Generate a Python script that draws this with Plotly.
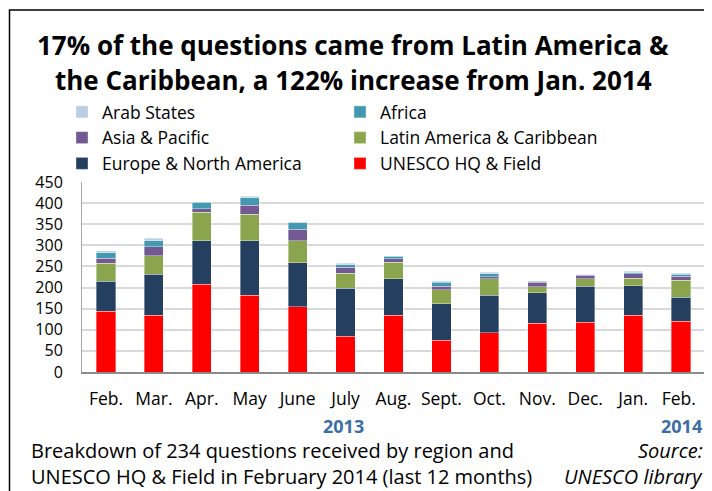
import plotly.graph_objects as go

months = ["Feb.", "Mar.", "Apr.", "May", "June", "July", "Aug.", "Sept.", "Oct.", "Nov.", "Dec.", "Jan.", "Feb. "]
unesco_hq = [144, 135, 208, 182, 154, 85, 135, 75, 93, 116, 118, 135, 120]
europe_na = [71, 97, 103, 129, 105, 113, 86, 87, 89, 72, 85, 69, 57]
latin_am = [42, 43, 67, 63, 52, 36, 39, 33, 39, 14, 18, 18, 40]
asia_pac = [12, 22, 9, 21, 27, 14, 8, 8, 5, 11, 8, 11, 10]
africa = [14, 14, 15, 18, 15, 6, 6, 10, 7, 2, 1, 2, 5]
arab_states = [4, 6, 1, 3, 3, 4, 1, 2, 3, 1, 1, 4, 2]
y_ticks = [0, 50, 100, 150, 200, 250, 300, 350, 400, 450]

OFF = 8  # page body margin offset
W, H = 712 - OFF, 491 - OFF
L, R, T, B = 82 - OFF, 705 - OFF, 182 - OFF, 372 - OFF
FONT = "Open Sans"

def px(x):
    return (x - OFF - L) / (R - L)

def py(y):
    return (B - (y - OFF)) / (B - T)

series = [
    ("UNESCO HQ & Field", unesco_hq, "#FF0000"),
    ("Europe & North America", europe_na, "#243F60"),
    ("Latin America & Caribbean", latin_am, "#8BA54E"),
    ("Asia & Pacific", asia_pac, "#735A94"),
    ("Africa", africa, "#4299B0"),
    ("Arab States", arab_states, "#B9CDE5"),
]

fig = go.Figure()
for name, vals, col in series:
    fig.add_trace(go.Bar(
        x=months, y=vals, name=name,
        marker=dict(color=col, line=dict(color="rgba(255,255,255,0.6)", width=0.6)),
        width=0.4,
    ))

fig.update_layout(
    width=W, height=H,
    barmode="stack",
    plot_bgcolor="white", paper_bgcolor="white",
    margin=dict(l=L, r=W - R, t=T, b=H - B),
    font=dict(family=FONT, size=18, color="#000000"),
    showlegend=True,
    legend=dict(
        orientation="h", traceorder="reversed",
        x=px(62), y=py(94), xanchor="left", yanchor="top",
        entrywidth=233, entrywidthmode="pixels",
        font=dict(family=FONT, size=17.5, color="#000000"),
        bgcolor="rgba(0,0,0,0)", itemclick=False,
    ),
    xaxis=dict(
        showline=True, linecolor="#8C8C8C", linewidth=2,
        ticks="", tickfont=dict(family=FONT, size=17.5),
        ticklabelstandoff=10, showgrid=False, fixedrange=True,
    ),
    yaxis=dict(
        range=[0, 450], tickvals=y_ticks, ticktext=[str(v) for v in y_ticks],
        showline=True, linecolor="#A6A6A6", linewidth=1,
        gridcolor="#D9D9D9", gridwidth=1.5, zeroline=False,
        ticks="", tickfont=dict(family=FONT, size=16),
        ticklabelstandoff=15, fixedrange=True,
    ),
)

ann = []
ann.append(dict(text="<b>17% of the questions came from Latin America &</b>", x=px(353), y=py(45),
                font=dict(size=26, family=FONT), xanchor="center", yanchor="middle"))
ann.append(dict(text="<b>the Caribbean, a 122% increase from Jan. 2014</b>", x=px(353), y=py(80),
                font=dict(size=26, family=FONT), xanchor="center", yanchor="middle"))
ann.append(dict(text="<b>2013</b>", x=px(343), y=py(426), font=dict(size=18, family=FONT, color="#3B6EA5"),
                xanchor="center", yanchor="middle"))
ann.append(dict(text="<b>2014</b>", x=px(681), y=py(426), font=dict(size=18, family=FONT, color="#3B6EA5"),
                xanchor="center", yanchor="middle"))
ann.append(dict(text="Breakdown of 234 questions received by region and", x=px(29), y=py(450),
                font=dict(size=20, family=FONT), xanchor="left", yanchor="middle"))
ann.append(dict(text="UNESCO HQ & Field in February 2014 (last 12 months)", x=px(29), y=py(476),
                font=dict(size=20, family=FONT), xanchor="left", yanchor="middle"))
ann.append(dict(text="<i>Source:</i>", x=px(705), y=py(450),
                font=dict(size=20, family=FONT), xanchor="right", yanchor="middle"))
ann.append(dict(text="<i>UNESCO library</i>", x=px(705), y=py(476),
                font=dict(size=20, family=FONT), xanchor="right", yanchor="middle"))
for a in ann:
    a.update(xref="paper", yref="paper", showarrow=False)
fig.update_layout(annotations=ann)

fig.add_shape(type="path", xref="paper", yref="paper",
              path=f"M {px(9.5)},{py(500)} L {px(9.5)},{py(10)} L {px(720)},{py(10)}",
              line=dict(color="#000000", width=1.5))

fig.write_html("out.html")
